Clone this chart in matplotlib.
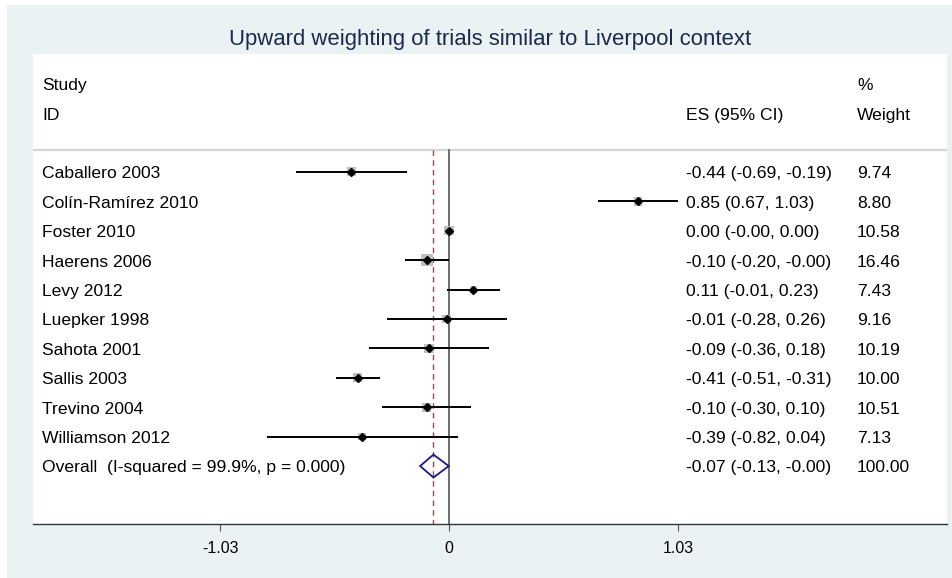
import numpy as np
import matplotlib
matplotlib.use("Agg")
import matplotlib.pyplot as plt
from matplotlib.patches import Rectangle, Polygon

plt.rcParams['font.family'] = ['Liberation Sans', 'DejaVu Sans']

studies = ["Caballero 2003", "Colín-Ramírez 2010", "Foster 2010", "Haerens 2006",
           "Levy 2012", "Luepker 1998", "Sahota 2001", "Sallis 2003",
           "Trevino 2004", "Williamson 2012"]
es = [-0.44, 0.85, 0.00, -0.10, 0.11, -0.01, -0.09, -0.41, -0.10, -0.39]
lo = [-0.69, 0.67, -0.001, -0.20, -0.01, -0.28, -0.36, -0.51, -0.30, -0.82]
hi = [-0.19, 1.03, 0.00, -0.001, 0.23, 0.26, 0.18, -0.31, 0.10, 0.04]
weights = [9.74, 8.80, 10.58, 16.46, 7.43, 9.16, 10.19, 10.00, 10.51, 7.13]

overall_es, overall_lo, overall_hi = -0.07, -0.13, -0.001
overall_label = "Overall  (I-squared = 99.9%, p = 0.000)"
xticks = [-1.03, 0, 1.03]
xtick_labels = ["-1.03", "0", "1.03"]
title = "Upward weighting of trials similar to Liverpool context"

W, H = 952, 578
fig = plt.figure(figsize=(W / 100, H / 100), dpi=100, facecolor="white")
bg = "#eaf2f3"
fig.patches.append(Rectangle((7 / W, 0), 1 - 7 / W, 1 - 5 / H, transform=fig.transFigure,
                             facecolor=bg, edgecolor="none", zorder=-5))

# white plot region
left, right, top, bottom = 33, 947, 54, 524
ax = fig.add_axes([left / W, 1 - bottom / H, (right - left) / W, (bottom - top) / H])
ax.set_facecolor("white")

x0, ppu = 449, 222.3  # pixel of zero, pixels per unit
ax.set_xlim((left - x0) / ppu, (right - x0) / ppu)
ax.set_ylim(11.97, -4.01)

for s in ["top", "right", "left"]:
    ax.spines[s].set_visible(False)
ax.spines["bottom"].set_color("#333333")
ax.spines["bottom"].set_linewidth(1.0)
ax.set_yticks([])
ax.set_xticks(xticks)
ax.set_xticklabels(xtick_labels, fontsize=11.5)
ax.tick_params(axis="x", length=5, color="#555555", pad=7)

fs = 12.6
dy = 0.065  # nudge text down to sit on the row line
x_label = (42 - x0) / ppu
x_es = (686 - x0) / ppu
x_w = (857 - x0) / ppu

# headers
ax.text(x_label, -3 + dy, "Study", fontsize=fs, va="center", ha="left")
ax.text(x_label, -2 + dy, "ID", fontsize=fs, va="center", ha="left")
ax.text(x_es, -2 + dy, "ES (95% CI)", fontsize=fs, va="center", ha="left")
ax.text(x_w, -3 + dy, "%", fontsize=fs, va="center", ha="left")
ax.text(x_w, -2 + dy, "Weight", fontsize=fs, va="center", ha="left")
ax.axhline(-0.75, color="#d6d6d6", lw=1.6)

# reference lines
n = len(studies)
ax.plot([0, 0], [-0.75, 11.97], color="#555555", lw=1.2, zorder=2)
ax.plot([overall_es, overall_es], [-0.75, 11.97], color="#cc3344", lw=1.0,
        ls=(0, (4, 3)), zorder=2)

rows = np.arange(n)
# weight boxes
box_side = 2.75 * np.sqrt(np.array(weights)) * 0.75  # in points
ax.scatter(es, rows, marker="s", s=box_side ** 2, color="#bfbfbf", zorder=3, linewidths=0)
ax.hlines(rows, lo, hi, color="black", lw=1.4, zorder=4)
ax.plot(es, rows, ls="none", marker="D", markersize=4, color="black", zorder=5)

for i in range(n):
    ax.text(x_label, i + dy, studies[i], fontsize=fs, va="center", ha="left")
    ax.text(x_es, i + dy, f"{es[i]:.2f} ({lo[i]:.2f}, {hi[i]:.2f})", fontsize=fs,
            va="center", ha="left")
    ax.text(x_w, i + dy, f"{weights[i]:.2f}", fontsize=fs, va="center", ha="left")

# overall diamond
ro = n
h = 0.39
ax.add_patch(Polygon([(overall_lo, ro), (overall_es, ro - h), (overall_hi, ro), (overall_es, ro + h)],
                     closed=True, fill=False, edgecolor="#1a1a80", lw=1.3, zorder=6))
ax.text(x_label, ro + dy, overall_label, fontsize=fs, va="center", ha="left")
ax.text(x_es, ro + dy, f"{overall_es:.2f} ({overall_lo:.2f}, {overall_hi:.2f})", fontsize=fs,
        va="center", ha="left")
ax.text(x_w, ro + dy, f"{sum(weights):.2f}", fontsize=fs, va="center", ha="left")

fig.text(490.5 / W, 1 - 39 / H, title, fontsize=15.9, color="#1c2a4c", ha="center", va="center")

fig.savefig("out.png", dpi=100, facecolor=fig.get_facecolor())
